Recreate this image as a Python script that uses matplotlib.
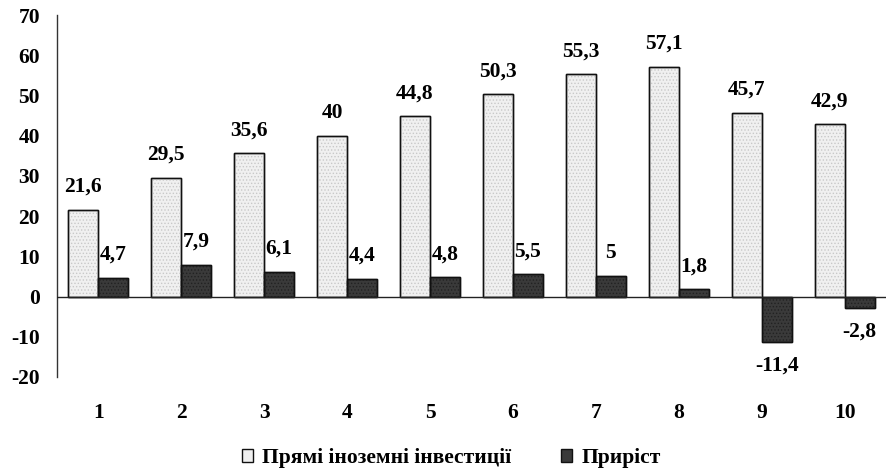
import numpy as np
import matplotlib
matplotlib.use("Agg")
import matplotlib.pyplot as plt
from matplotlib.font_manager import FontProperties

# data
categories = ['1', '2', '3', '4', '5', '6', '7', '8', '9', '10']
fdi = [21.6, 29.5, 35.6, 40, 44.8, 50.3, 55.3, 57.1, 45.7, 42.9]
growth = [4.7, 7.9, 6.1, 4.4, 4.8, 5.5, 5, 1.8, -11.4, -2.8]
yticks = [-20, -10, 0, 10, 20, 30, 40, 50, 60, 70]
series_names = ['Прямі іноземні інвестиції', 'Приріст']

FS = 15.5
plt.rcParams['font.family'] = ['Liberation Serif', 'DejaVu Serif']
plt.rcParams['font.weight'] = 'bold'
plt.rcParams['font.size'] = FS
plt.rcParams['axes.unicode_minus'] = False
plt.rcParams['hatch.linewidth'] = 0.6
fp = FontProperties(family='Liberation Serif', weight='bold', size=FS)

fig = plt.figure(figsize=(8.87, 4.70), dpi=100)
ax = fig.add_axes([0.064, 0.198, 0.935, 0.77])

x = np.arange(len(categories))
w = 0.36
b1 = ax.bar(x - w / 2, fdi, w, color='#f0f0f0', edgecolor='#111111', linewidth=1.0,
            label=series_names[0], zorder=1)
b2 = ax.bar(x + w / 2, growth, w, color='#3a3a3a', edgecolor='#111111', linewidth=1.0,
            label=series_names[1], zorder=1)
# dotted texture, then outlines again on top
ax.bar(x - w / 2, fdi, w, facecolor='none', edgecolor='#c8c8c8', hatch='.....', linewidth=0, zorder=1.5)
ax.bar(x + w / 2, growth, w, facecolor='none', edgecolor='#222222', hatch='.....', linewidth=0, zorder=1.5)
ax.bar(x - w / 2, fdi, w, facecolor='none', edgecolor='#111111', linewidth=1.0, zorder=2)
ax.bar(x + w / 2, growth, w, facecolor='none', edgecolor='#111111', linewidth=1.0, zorder=2)


def fmt(v):
    return ('%g' % v).replace('.', ',')


for bars, vals in ((b1, fdi), (b2, growth)):
    for rect, v in zip(bars, vals):
        cx = rect.get_x() + rect.get_width() / 2
        off = 16.5 if v >= 0 else -17
        ax.annotate(fmt(v), (cx, v), xytext=(0, off), textcoords='offset points',
                    ha='center', va='center', fontproperties=fp)

ax.axhline(0, color='#222222', linewidth=1.0, zorder=3)
ax.set_xlim(-0.5, len(categories) - 0.5)
ax.set_ylim(-20, 70)
ax.set_yticks(yticks)
ax.set_xticks(x)
ax.set_xticklabels(categories)
ax.tick_params(axis='x', length=0, pad=18.5)
ax.tick_params(axis='y', length=0, pad=12)
for lbl in ax.get_xticklabels() + ax.get_yticklabels():
    lbl.set_fontproperties(fp)

for side in ('top', 'right', 'bottom'):
    ax.spines[side].set_visible(False)
ax.spines['left'].set_color('#333333')
ax.spines['left'].set_linewidth(1.0)

fig.legend(handles=[b1, b2], labels=series_names, loc='center', bbox_to_anchor=(0.509, 0.025),
           ncol=2, frameon=False, handlelength=0.5, handleheight=0.5, handletextpad=0.45,
           columnspacing=2.3, borderpad=0, prop=fp)

fig.savefig('out.png', dpi=100)
